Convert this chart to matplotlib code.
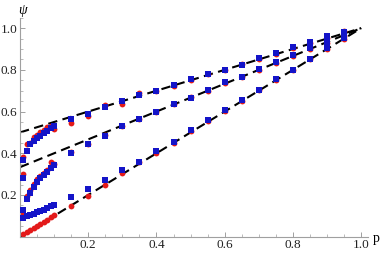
"""Recreate psi vs p scatter with dashed reference lines."""

import numpy as np
import matplotlib
matplotlib.use("Agg")
import matplotlib.pyplot as plt
from matplotlib.ticker import MultipleLocator

# sample points
p_small = [0.01, 0.02, 0.03, 0.04, 0.05, 0.06, 0.07, 0.08, 0.09, 0.10]
p_large = [0.15, 0.20, 0.25, 0.30, 0.35, 0.40, 0.45, 0.50, 0.55,
           0.60, 0.65, 0.70, 0.75, 0.80, 0.85, 0.90, 0.95]

# upper group (intercept 1/2)
upper_red_small = [0.38, 0.445, 0.45, 0.48, 0.49, 0.50, 0.51, 0.525, 0.53, 0.515]
upper_blue_small = [0.37, 0.41, 0.445, 0.46, 0.475, 0.485, 0.495, 0.505, 0.52, 0.53]
upper_red_large = [0.546, 0.578, 0.63, 0.635, 0.69, 0.70, 0.722, 0.752, 0.78,
                   0.80, 0.826, 0.85, 0.876, 0.905, 0.93, 0.955, 0.985]
upper_blue_large = [0.566, 0.59, 0.62, 0.65, 0.678, 0.70, 0.727, 0.757, 0.782,
                    0.80, 0.825, 0.855, 0.88, 0.91, 0.935, 0.96, 0.98]

# middle group (intercept 1/3)
middle_red_small = [0.30, 0.195, 0.225, 0.255, 0.275, 0.29, 0.305, 0.32, 0.36, 0.35]
middle_blue_small = [0.28, 0.18, 0.21, 0.24, 0.26, 0.28, 0.295, 0.31, 0.33, 0.345]
middle_red_large = [0.405, 0.445, 0.49, 0.53, 0.566, 0.60, 0.635, 0.668, 0.70,
                    0.735, 0.768, 0.80, 0.835, 0.868, 0.90, 0.93, 0.962]
middle_blue_large = [0.40, 0.445, 0.485, 0.53, 0.566, 0.597, 0.635, 0.665, 0.703,
                     0.74, 0.768, 0.803, 0.838, 0.87, 0.906, 0.932, 0.962]

# lower group (intercept 0)
lower_red_small = [0.012, 0.022, 0.032, 0.042, 0.052, 0.062, 0.072, 0.082, 0.093, 0.103]
lower_blue_small = [0.09, 0.10, 0.105, 0.11, 0.12, 0.125, 0.13, 0.14, 0.145, 0.15]
lower_red_large = [0.149, 0.196, 0.249, 0.305, 0.36, 0.40, 0.45, 0.505, 0.553,
                   0.603, 0.652, 0.703, 0.752, 0.80, 0.85, 0.90, 0.95]
lower_blue_large = [0.19, 0.23, 0.27, 0.318, 0.36, 0.41, 0.455, 0.51, 0.558,
                    0.606, 0.655, 0.705, 0.757, 0.80, 0.852, 0.905, 0.955]

# stray first points of the lower group
lower_extra_p = [0.01]
lower_extra_red = [0.11]
lower_extra_blue = [0.13]

# reference lines psi = a + (1 - a) p
intercepts = [1 / 2, 1 / 3, 0.0]

RED = "#e31a1a"
BLUE = "#1414c8"
AXIS_GREY = "#a0a0a0"

plt.rcParams["font.family"] = ["Liberation Serif", "DejaVu Serif"]

fig = plt.figure(figsize=(3.82, 2.57), dpi=100)
ax = fig.add_axes([20 / 382, 20.3 / 257, 348 / 382, 219 / 257])

pl = np.array([0.0, 1.0])
for a in intercepts:
    ax.plot(pl, a + (1 - a) * pl, color="black", lw=1.5, ls=(0, (4.5, 2.6)), zorder=1)

ms = 4.2
reds = [(p_small, upper_red_small), (p_large, upper_red_large),
        (p_small, middle_red_small), (p_large, middle_red_large),
        (p_small, lower_red_small), (p_large, lower_red_large),
        (lower_extra_p, lower_extra_red)]
blues = [(p_small, upper_blue_small), (p_large, upper_blue_large),
         (p_small, middle_blue_small), (p_large, middle_blue_large),
         (p_small, lower_blue_small), (p_large, lower_blue_large),
         (lower_extra_p, lower_extra_blue)]
for xs, ys in reds:
    ax.plot(xs, ys, "o", color=RED, ms=ms, mew=0, zorder=2)
for xs, ys in blues:
    ax.plot(xs, ys, "s", color=BLUE, ms=ms * 0.9, mew=0, zorder=3)

ax.set_xlim(0, 1.02)
ax.set_ylim(0, 1.05)
for side in ("top", "right"):
    ax.spines[side].set_visible(False)
for side in ("left", "bottom"):
    ax.spines[side].set_color(AXIS_GREY)
    ax.spines[side].set_linewidth(0.8)

ax.xaxis.set_minor_locator(MultipleLocator(0.05))
ax.yaxis.set_minor_locator(MultipleLocator(0.05))
ax.set_xticks([0.2, 0.4, 0.6, 0.8, 1.0])
ax.set_yticks([0.2, 0.4, 0.6, 0.8, 1.0])
ax.set_xticklabels(["0.2", "0.4", "0.6", "0.8", "1.0"])
ax.set_yticklabels(["0.2", "0.4", "0.6", "0.8", "1.0"])
ax.tick_params(which="major", direction="in", length=3.5, width=0.7,
               color=AXIS_GREY, labelsize=9.5, labelcolor="#222222", pad=2)
ax.tick_params(which="minor", direction="in", length=2, width=0.5, color=AXIS_GREY)

ax.text(1.035, -0.01, "p", transform=ax.transData, fontsize=10,
        ha="left", va="center", clip_on=False)
ax.text(0.008, 1.085, "ψ", transform=ax.transData, fontsize=10, style="italic",
        ha="center", va="center", clip_on=False)

fig.savefig("out.png", dpi=100)
